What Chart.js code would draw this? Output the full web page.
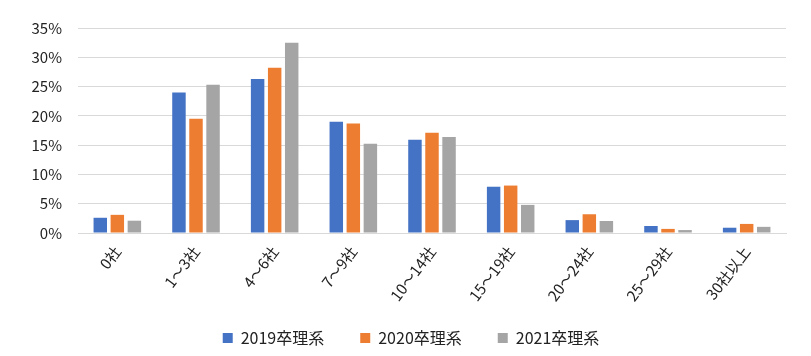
<!DOCTYPE html>
<html>
<head>
<meta charset="utf-8">
<script src="https://cdn.jsdelivr.net/npm/chart.js@4/dist/chart.umd.min.js"></script>
<style>
html,body{margin:0;padding:0;background:#fff;}
#wrap{width:811px;height:356px;}
</style>
</head>
<body>
<div id="wrap"><canvas id="c" width="811" height="356"></canvas></div>
<script>
const categories = ["0社","1～3社","4～6社","7～9社","10～14社","15～19社","20～24社","25～29社","30社以上"];
const seriesNames = ["2019卒理系","2020卒理系","2021卒理系"];
const values2019 = [2.6, 24.0, 26.3, 19.0, 15.9, 7.9, 2.2, 1.2, 0.9];
const values2020 = [3.1, 19.5, 28.2, 18.7, 17.1, 8.1, 3.2, 0.7, 1.55];
const values2021 = [2.1, 25.3, 32.5, 15.25, 16.4, 4.8, 2.05, 0.5, 1.05];
const colors = ["#4472C4","#ED7D31","#A5A5A5"];
const FONT = "'Noto Sans CJK JP', 'DejaVu Sans', sans-serif";

const layoutTweak = {
  id: 'layoutTweak',
  afterLayout(chart) {
    // let rotated x labels spill below the axis box (they overlap the legend band in the reference)
    chart.scales.x.bottom = chart.height;
    // centre legend like the reference
    if (chart.legend) { chart.legend.left = 36; }
  }
};

new Chart(document.getElementById('c'), {
  type: 'bar',
  data: {
    labels: categories,
    datasets: [values2019, values2020, values2021].map((d, i) => ({
      label: seriesNames[i],
      data: d,
      backgroundColor: colors[i],
      categoryPercentage: 0.65,
      barPercentage: 0.79
    }))
  },
  plugins: [layoutTweak],
  options: {
    responsive: false,
    animation: false,
    layout: { padding: { top: 28, right: 25, left: 0, bottom: 0 } },
    plugins: {
      legend: {
        position: 'bottom',
        labels: {
          boxWidth: 10, boxHeight: 10, color: '#222',
          font: { family: FONT, size: 16 }, padding: 36
        }
      },
      tooltip: { enabled: false }
    },
    scales: {
      x: {
        grid: { display: false, drawTicks: false },
        border: { display: true, color: '#d9d9d9', width: 1 },
        ticks: { color: '#222', font: { family: FONT, size: 15 }, maxRotation: 53, minRotation: 53, padding: 10 },
        afterFit: s => { s.height = 61; }
      },
      y: {
        min: 0, max: 35,
        grid: { color: '#d9d9d9', lineWidth: 1, drawTicks: false },
        border: { display: false },
        ticks: { stepSize: 5, color: '#222', font: { family: FONT, size: 15 }, padding: 16, callback: v => v + '%' },
        afterFit: s => { s.width = 78; }
      }
    }
  }
});
</script>
</body>
</html>
